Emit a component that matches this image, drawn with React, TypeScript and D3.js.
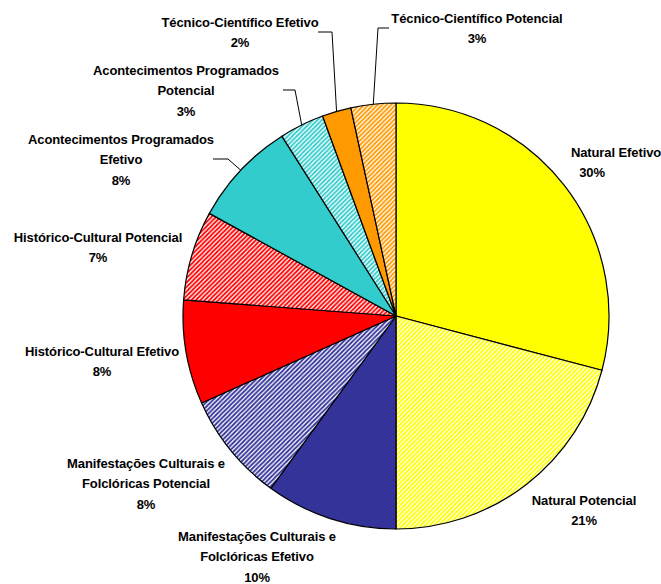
import { useEffect, useRef } from "react";
import * as d3 from "d3";

// slices, clockwise from 12 o'clock
const categories = [
  "Natural Efetivo",
  "Natural Potencial",
  "Manifestações Culturais e Folclóricas Efetivo",
  "Manifestações Culturais e Folclóricas Potencial",
  "Histórico-Cultural Efetivo",
  "Histórico-Cultural Potencial",
  "Acontecimentos Programados Efetivo",
  "Acontecimentos Programados Potencial",
  "Técnico-Científico Efetivo",
  "Técnico-Científico Potencial",
];
const values = [29.1, 20.9, 10.0, 8.3, 7.9, 6.8, 8.0, 3.4, 2.2, 3.4];
const percentLabels = ["30%", "21%", "10%", "8%", "8%", "7%", "8%", "3%", "2%", "3%"];
// label lines as printed on the chart
const labelLines = [
  ["Natural Efetivo"],
  ["Natural Potencial"],
  ["Manifestações Culturais e", "Folclóricas Efetivo"],
  ["Manifestações Culturais e", "Folclóricas Potencial"],
  ["Histórico-Cultural Efetivo"],
  ["Histórico-Cultural Potencial"],
  ["Acontecimentos Programados", "Efetivo"],
  ["Acontecimentos Programados", "Potencial"],
  ["Técnico-Científico Efetivo"],
  ["Técnico-Científico Potencial"],
];

// layout (not data): label anchor x, first line y, optional leader elbow
const labelLayout: { x: number; y: number; leader?: [number, number, number] }[] = [
  { x: 616, y: 152 },
  { x: 584, y: 500 },
  { x: 257, y: 536 },
  { x: 146, y: 463 },
  { x: 102, y: 351 },
  { x: 98, y: 237 },
  { x: 121, y: 139, leader: [213, 228, 159] },
  { x: 186, y: 70, leader: [283, 295, 90] },
  { x: 240, y: 22, leader: [318, 332, 32] },
  { x: 477, y: 18, leader: [389, 378, 28] },
];

const fills = [
  "#FFFF00",
  "url(#hatch-yellow)",
  "#333399",
  "url(#hatch-blue)",
  "#FF0000",
  "url(#hatch-red)",
  "#33CCCC",
  "url(#hatch-teal)",
  "#FF9900",
  "url(#hatch-orange)",
];

const hatchColors: [string, string][] = [
  ["hatch-yellow", "#FFFF00"],
  ["hatch-blue", "#333399"],
  ["hatch-red", "#FF0000"],
  ["hatch-teal", "#33CCCC"],
  ["hatch-orange", "#FF9900"],
];

export default function App() {
  const ref = useRef<SVGSVGElement | null>(null);

  useEffect(() => {
    if (!ref.current) return;
    const width = 661;
    const height = 584;
    const cx = 396;
    const cy = 316;
    const r = 213;

    const svg = d3.select(ref.current).html("").attr("width", width).attr("height", height);

    const defs = svg.append("defs");
    hatchColors.forEach(([id, color]) => {
      const p = defs
        .append("pattern")
        .attr("id", id)
        .attr("patternUnits", "userSpaceOnUse")
        .attr("width", 4.5)
        .attr("height", 4.5);
      p.append("rect").attr("width", 4.5).attr("height", 4.5).attr("fill", "#fff");
      p.append("path")
        .attr("d", "M-1,1 L1,-1 M0,4.5 L4.5,0 M3.5,5.5 L5.5,3.5")
        .attr("stroke", color)
        .attr("stroke-width", 1.8);
    });

    const data = values.map((v, i) => ({ name: categories[i], value: v, i }));
    const pie = d3
      .pie<{ name: string; value: number; i: number }>()
      .sort(null)
      .value((d) => d.value)
      .startAngle(0);
    const arcs = pie(data);

    const arc = d3.arc<d3.PieArcDatum<{ name: string; value: number; i: number }>>().innerRadius(0).outerRadius(r);
    const edge = d3.arc<d3.PieArcDatum<{ name: string; value: number; i: number }>>().innerRadius(r).outerRadius(r);

    const g = svg.append("g").attr("transform", `translate(${cx},${cy})`);
    g.selectAll("path.slice")
      .data(arcs)
      .enter()
      .append("path")
      .attr("class", "slice")
      .attr("d", arc as any)
      .attr("fill", (d) => fills[d.data.i])
      .attr("stroke", "#000")
      .attr("stroke-width", 1.2)
      .attr("stroke-linejoin", "round");

    // leader lines
    arcs.forEach((a) => {
      const lay = labelLayout[a.data.i];
      if (!lay.leader) return;
      const [px, py] = edge.centroid(a);
      const [x0, x1, y] = lay.leader;
      svg.append("path")
        .attr("d", `M${x0},${y} L${x1},${y} L${cx + px},${cy + py}`)
        .attr("fill", "none")
        .attr("stroke", "#000")
        .attr("stroke-width", 1);
    });

    // labels
    arcs.forEach((a) => {
      const i = a.data.i;
      const lay = labelLayout[i];
      const lines = [...labelLines[i], percentLabels[i]];
      const t = svg.append("text")
        .attr("font-family", "'Liberation Sans', Arial, sans-serif")
        .attr("font-weight", "bold")
        .attr("font-size", 13)
        .attr("letter-spacing", "-0.1px")
        .attr("fill", "#000")
        .attr("text-anchor", "middle");
      lines.forEach((line, k) => {
        const isPct = k === lines.length - 1;
        t.append("tspan")
          .attr("x", i === 0 && isPct ? 592 : lay.x)
          .attr("y", lay.y + k * 20.8)
          .attr("dy", "0.35em")
          .text(line);
      });
    });
  }, []);

  return (
    <div style={{ position: "absolute", left: 0, top: 0 }}>
      <svg ref={ref}></svg>
    </div>
  );
}
